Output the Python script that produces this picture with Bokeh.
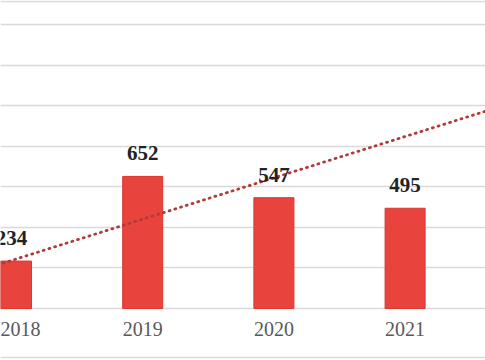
from bokeh.plotting import figure
from bokeh.models import Range1d, FixedTicker, ColumnDataSource, Span, LinearAxis
from bokeh.core.properties import value
from bokeh.embed import file_html
from bokeh.resources import INLINE

years = ["2018", "2019", "2020", "2021"]
counts = [234, 652, 547, 495]
trend_x = [-0.5, 3.7]
trend_y = [135, 992]   # linear trend (about 237 at 2018, +204 per year)

xs = list(range(len(years)))
src = ColumnDataSource(dict(x=xs, top=counts, label=[str(c) for c in counts]))

W, H = 485, 360
px_per_cat = 131.2
x_start = -11 / px_per_cat
p = figure(width=W, height=H, output_backend="svg", toolbar_location=None,
           x_range=Range1d(x_start, x_start + W / px_per_cat),
           y_range=Range1d(-257, 1521),
           x_axis_location=None, y_axis_location=None,
           min_border_left=0, min_border_right=0, min_border_top=0, min_border_bottom=0)
p.outline_line_color = None
p.background_fill_color = "white"
p.border_fill_color = "white"

p.xgrid.visible = False
p.ygrid.ticker = FixedTicker(ticks=[0, 200, 400, 600, 800, 1000, 1200, 1400])
p.ygrid.grid_line_color = "#d9d9d9"
p.ygrid.grid_line_width = 1.5
p.add_layout(Span(location=1516, dimension="width", line_color="#d9d9d9", line_width=1.5))
p.add_layout(Span(location=-242, dimension="width", line_color="#d9d9d9", line_width=1.5))

ax = LinearAxis(fixed_location=0)
ax.ticker = FixedTicker(ticks=xs)
ax.major_label_overrides = {i: y for i, y in zip(xs, years)}
ax.axis_line_color = None
ax.major_tick_line_color = None
ax.minor_tick_line_color = None
ax.major_tick_out = 0
ax.major_tick_in = 0
ax.major_label_standoff = 14
ax.major_label_text_font = "Liberation Serif"
ax.major_label_text_font_size = "20px"
ax.major_label_text_color = "#595959"
p.add_layout(ax, "below")

p.vbar(x="x", top="top", width=0.305, bottom=0, source=src,
       fill_color="#e8433c", line_color="#d9372f", line_width=1)

p.line(trend_x, trend_y, line_color="#b23a3a", line_width=2.8,
       line_dash="1 5", line_cap="round")

p.text(x="x", y="top", text="label", source=src, y_offset=-23,
       text_align="center", text_baseline="alphabetic",
       text_font=value("Liberation Serif"), text_font_style="bold",
       text_font_size="21px", text_color="#222222")

open("out.html", "w").write(file_html(p, INLINE))
